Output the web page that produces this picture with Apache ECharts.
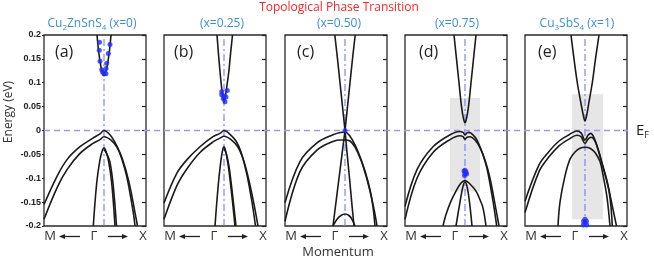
<!DOCTYPE html>
<html><head><meta charset="utf-8">
<script src="https://cdn.jsdelivr.net/npm/echarts@6/dist/echarts.min.js"></script>
<style>html,body{margin:0;padding:0;background:#fff}#c{width:654px;height:258px}</style>
</head><body><div id="c"></div>
<script>
// ---- axis settings ----
const kMin = -60, kMax = 42;          // momentum (M <- Gamma=0 -> X)
const eMin = -0.2, eMax = 0.2, eStep = 0.05;
const gammaK = 0, fermiE = 0;
const panelTitles = ['{n|Cu}{s|2}{n|ZnSnS}{s|4}{n| (x=0)}', '{n|(x=0.25)}', '{n|(x=0.50)}', '{n|(x=0.75)}', '{n|Cu}{s|3}{n|SbS}{s|4}{n| (x=1)}'];
const panelLetters = ['(a)', '(b)', '(c)', '(d)', '(e)'];
const xTickLabels = ['M', 'Γ', 'X'];

// ---- panel (a) x=0 ----
const aCond = [[-7,0.2],[-5.5,0.168],[-4,0.145],[-2.5,0.128],[-1,0.118],[0,0.115],[1,0.118],[2.5,0.128],[4,0.145],[5.5,0.168],[7,0.2]];
const aHeavyUp = [[-60,-0.155],[-47,-0.096],[-37,-0.061],[-24,-0.034],[-11,-0.016],[-4,-0.007],[0,0],[6,-0.009],[11,-0.025],[16,-0.048],[22.7,-0.096],[29.3,-0.172],[31,-0.2]];
const aHeavyLo = [[-60,-0.186],[-47,-0.12],[-37,-0.082],[-24,-0.048],[-11,-0.027],[-4,-0.019],[0,-0.013],[7,-0.02],[13,-0.035],[18.5,-0.06],[25,-0.108],[31,-0.172],[33.5,-0.2]];
const aLight = [[-10.7,-0.2],[-7.3,-0.11],[-4,-0.061],[-1.5,-0.041],[0,-0.037],[1.5,-0.041],[4.3,-0.061],[7.7,-0.11],[11,-0.2]];
const aLight2 = [[0,-0.04],[2.5,-0.048],[5.8,-0.065],[9.2,-0.115],[12.5,-0.2]];
const aBlue = [[-4.5,0.185],[6,0.18],[-4.7,0.168],[4.3,0.161],[-4,0.145],[2.7,0.141],[-2.3,0.127],[2,0.13],[0,0.119],[2,0.119],[-1.3,0.122]];

// ---- panel (b) x=0.25 ----
const bCond = [[-7,0.2],[-5.5,0.16],[-4,0.123],[-2.5,0.092],[-1,0.067],[0,0.06],[1,0.067],[2.8,0.092],[4.8,0.123],[6.5,0.16],[8.5,0.2]];
const bHeavyUp = [[-60,-0.152],[-47,-0.089],[-37,-0.061],[-24,-0.034],[-11,-0.013],[-4,-0.006],[0,0],[6,-0.008],[12,-0.022],[17,-0.045],[22.7,-0.09],[28,-0.15],[31.5,-0.2]];
const bHeavyLo = [[-60,-0.186],[-47,-0.115],[-37,-0.08],[-24,-0.046],[-11,-0.024],[-4,-0.016],[0,-0.012],[7,-0.019],[14,-0.035],[19.5,-0.062],[25,-0.105],[30.5,-0.16],[34,-0.2]];
const bLight = [[-9,-0.2],[-6,-0.12],[-3.5,-0.07],[-1.5,-0.042],[0,-0.034],[1.5,-0.042],[4,-0.07],[7,-0.12],[11,-0.2]];
const bLight2 = [[0,-0.037],[2.5,-0.05],[5,-0.075],[8,-0.125],[12,-0.2]];
const bBlue = [[-2.3,0.081],[3.3,0.084],[2,0.07],[-0.7,0.067],[1,0.06],[-2.3,0.075],[0,0.072]];

// ---- panel (c) x=0.50 ----
const cCone1 = [[-10.2,0.2],[-7.5,0.15],[-5,0.1],[-2.5,0.05],[0,0],[2.2,-0.05],[4.5,-0.1],[6.7,-0.15],[9,-0.2]];
const cCone2 = [[10.2,0.2],[7.5,0.15],[5,0.1],[2.5,0.05],[0,0],[-3,-0.05],[-6,-0.1],[-9,-0.15],[-12,-0.2]];
const cHeavyUp = [[-60,-0.151],[-45,-0.065],[-28,-0.026],[-12,-0.009],[-4,-0.004],[0,-0.003],[5,-0.012],[10,-0.03],[15,-0.055],[20,-0.085],[25,-0.124],[28,-0.16],[30,-0.2]];
const cHeavyLo = [[-60,-0.19],[-45,-0.086],[-28,-0.041],[-12,-0.023],[-4,-0.02],[0,-0.02],[5,-0.022],[10,-0.035],[16,-0.062],[21,-0.095],[26,-0.136],[29.5,-0.17],[32,-0.2]];
const cArc = [[-12,-0.2],[-8,-0.186],[-4,-0.178],[0,-0.175],[4,-0.178],[7,-0.186],[10,-0.2]];
const cBlue = [[0,0]];

// ---- panel (d) x=0.75 ----
const dCond = [[-11,0.2],[-8.5,0.15],[-6,0.1],[-3.5,0.05],[-1.5,0.025],[0,0.016],[1.5,0.025],[3.5,0.05],[6,0.1],[8.5,0.15],[11,0.2]];
const dHeavyUp = [[-60,-0.159],[-48,-0.082],[-32,-0.034],[-15,-0.009],[-5,-0.002],[-2,-0.004],[0,-0.009],[2,-0.005],[4,-0.004],[8,-0.009],[12,-0.02],[17,-0.045],[22,-0.08],[28,-0.148],[31.7,-0.2]];
const dHeavyLo = [[-60,-0.186],[-48,-0.1],[-32,-0.046],[-15,-0.019],[-5,-0.011],[-2,-0.013],[0,-0.018],[2,-0.014],[5,-0.013],[10,-0.02],[15,-0.036],[20,-0.062],[25,-0.1],[30.5,-0.16],[34,-0.2]];
const dLightOuter = [[-22,-0.2],[-19,-0.176],[-14,-0.148],[-9,-0.127],[-4,-0.11],[0,-0.105],[4,-0.11],[11,-0.127],[15,-0.145],[18,-0.162],[21,-0.2]];
const dLightInner = [[-9,-0.2],[-5,-0.15],[-2,-0.117],[0,-0.108],[2,-0.117],[4.5,-0.15],[7,-0.2]];
const dBlue = [[-1,-0.085],[1,-0.087],[0,-0.09],[-0.5,-0.094],[1.5,-0.091],[0,-0.083]];
const dBox = [[-15,0.068],[15,-0.128]];

// ---- panel (e) x=1 ----
const eCond = [[-14,0.2],[-11,0.15],[-7.7,0.1],[-4.3,0.06],[-2,0.035],[0,0.02],[2,0.035],[4,0.06],[7.3,0.1],[10.5,0.15],[14,0.2]];
const eHeavyUp = [[-60,-0.148],[-46,-0.072],[-36,-0.044],[-26,-0.022],[-16,-0.009],[-8,-0.001],[-4,-0.005],[0,-0.02],[3,-0.01],[5.7,-0.006],[9,-0.015],[13,-0.04],[17.3,-0.072],[21,-0.1],[24,-0.127],[26,-0.16],[27.3,-0.2]];
const eHeavyLo = [[-60,-0.172],[-46,-0.086],[-36,-0.055],[-26,-0.032],[-16,-0.018],[-8,-0.01],[-4,-0.013],[0,-0.027],[3,-0.018],[6,-0.014],[10,-0.022],[14,-0.045],[18,-0.075],[22,-0.105],[26,-0.145],[29,-0.175],[31.5,-0.2]];
const eLight = [[-27,-0.2],[-25,-0.15],[-20,-0.095],[-15,-0.06],[-10,-0.045],[-5,-0.037],[0,-0.035],[5,-0.037],[10,-0.046],[15,-0.065],[18,-0.093],[22,-0.14],[25,-0.2]];
const eBlue = [[-1.5,-0.19],[0,-0.186],[1.5,-0.19],[-1.7,-0.198],[1.7,-0.198],[0,-0.193]];
const eBox = [[-13,0.076],[18,-0.186]];

const panels = [
  {bands:[aCond,aHeavyUp,aHeavyLo,aLight,aLight2], blue:aBlue, box:null},
  {bands:[bCond,bHeavyUp,bHeavyLo,bLight,bLight2], blue:bBlue, box:null},
  {bands:[cCone1,cCone2,cHeavyUp,cHeavyLo,cArc], blue:cBlue, box:null},
  {bands:[dCond,dHeavyUp,dHeavyLo,dLightOuter,dLightInner], blue:dBlue, box:dBox},
  {bands:[eCond,eHeavyUp,eHeavyLo,eLight], blue:eBlue, box:eBox}
];

// ---- layout ----
const lefts = [44,164,285,405,525];
const W = 102, TOP = 35, H = 191;
const titleX = [92,222,339,457,577];
const letterDX = [11,10,12,14,13];
const BLUE_T = '#3a8fdc';
const GAMMA_C = '#6a6aff';

const grids=[], xAxes=[], yAxes=[], series=[], graphic=[];
panels.forEach((p,i)=>{
  grids.push({left:lefts[i], top:TOP, width:W, height:H, show:true, borderColor:'#2a2a2a', borderWidth:1.3, backgroundColor:'transparent'});
  xAxes.push({gridIndex:i, type:'value', min:kMin, max:kMax, show:false, axisLine:{onZero:false}});
  yAxes.push({gridIndex:i, type:'value', min:eMin, max:eMax, interval:eStep, position:'left',
    axisLine:{show:false, onZero:false}, splitLine:{show:false},
    axisTick:{show:i===0, inside:false, length:2, lineStyle:{color:'#222'}},
    axisLabel:{show:i===0, margin:3, fontFamily:'Liberation Sans', fontWeight:'bold', fontSize:9, color:'#222'}});
  yAxes.push({gridIndex:i, type:'value', min:eMin, max:eMax, interval:eStep, position:'right',
    axisLine:{show:false, onZero:false}, splitLine:{show:false},
    axisTick:{show:true, inside:true, length:4, lineStyle:{color:'#222', width:1.2}}, axisLabel:{show:false}});
  const yi = i*2;
  // Gamma reference line (dash-dot) through the axes, plus optional shaded box
  const ref = {type:'line', xAxisIndex:i, yAxisIndex:yi, data:[[gammaK,eMin],[gammaK,eMax]], symbol:'none',
    silent:true, animation:false, z:2,
    lineStyle:{color:GAMMA_C, width:1, type:[7,3,2,3]}};
  if(p.box){
    ref.markArea = {silent:true, z:1, itemStyle:{color:'#e6e6e6'}, label:{show:false},
      data:[[{xAxis:p.box[0][0], yAxis:p.box[0][1]},{xAxis:p.box[1][0], yAxis:p.box[1][1]}]]};
  }
  series.push(ref);
  p.bands.forEach((b)=>{
    series.push({type:'line', xAxisIndex:i, yAxisIndex:yi, data:b, smooth:0.35, clip:true,
      symbol:'none', color:'#1a1a1a', lineStyle:{color:'#1a1a1a', width:1.6},
      z:3, silent:true, animation:false});
  });
  series.push({type:'scatter', xAxisIndex:i, yAxisIndex:yi, data:p.blue, symbolSize:5,
    itemStyle:{color:'#1f2cff'}, z:5, silent:true, animation:false});

  // panel title and letter
  graphic.push({type:'text', x:titleX[i], y:24, z:10, style:{text:panelTitles[i], textAlign:'center', textVerticalAlign:'middle',
    rich:{n:{fontFamily:'Open Sans', fontSize:12, fill:BLUE_T, lineHeight:14}, s:{fontFamily:'Open Sans', fontSize:8, fill:BLUE_T, padding:[7,0,0,0]}}}});
  graphic.push({type:'text', x:lefts[i]+letterDX[i], y:52, z:10, style:{text:panelLetters[i], textAlign:'left', textVerticalAlign:'middle', fontFamily:'Open Sans', fontSize:16, fill:'#222'}});
  // x labels M <- Gamma -> X
  const L = lefts[i], ly = 236;
  graphic.push({type:'text', x:L+6, y:ly, style:{text:xTickLabels[0], textAlign:'center', textVerticalAlign:'middle', fontFamily:'Open Sans', fontSize:13, fill:'#333'}});
  graphic.push({type:'text', x:L+50, y:ly, style:{text:xTickLabels[1], textAlign:'center', textVerticalAlign:'middle', fontFamily:'Open Sans', fontSize:13, fill:'#333'}});
  graphic.push({type:'text', x:L+99, y:ly, style:{text:xTickLabels[2], textAlign:'center', textVerticalAlign:'middle', fontFamily:'Open Sans', fontSize:13, fill:'#333'}});
  // arrows
  graphic.push({type:'line', shape:{x1:L+18, y1:ly+0.5, x2:L+36, y2:ly+0.5}, style:{stroke:'#222', lineWidth:1.3}});
  graphic.push({type:'polygon', shape:{points:[[L+15,ly+0.5],[L+21,ly-2],[L+21,ly+3]]}, style:{fill:'#222'}});
  graphic.push({type:'line', shape:{x1:L+64, y1:ly+0.5, x2:L+81, y2:ly+0.5}, style:{stroke:'#222', lineWidth:1.3}});
  graphic.push({type:'polygon', shape:{points:[[L+84,ly+0.5],[L+78,ly-2],[L+78,ly+3]]}, style:{fill:'#222'}});
});

// overlay grid for the Fermi level line across all panels
grids.push({left:44, top:TOP, width:584, height:H, show:false});
xAxes.push({gridIndex:5, type:'value', min:0, max:1, show:false, axisLine:{onZero:false}});
yAxes.push({gridIndex:5, type:'value', min:eMin, max:eMax, show:false, axisLine:{onZero:false}});
series.push({type:'line', xAxisIndex:5, yAxisIndex:10, data:[[0,fermiE],[1,fermiE]], symbol:'none', silent:true, animation:false, z:2,
  lineStyle:{color:'#9a9af0', width:1.3, type:[6,4]}});

graphic.push({type:'text', x:339, y:8, style:{text:'Topological Phase Transition', textAlign:'center', textVerticalAlign:'middle', fontFamily:'Open Sans', fontSize:12, fill:'#ff2424'}});
graphic.push({type:'text', x:338, y:252, style:{text:'Momentum', textAlign:'center', textVerticalAlign:'middle', fontFamily:'Open Sans', fontSize:13, fill:'#333'}});
graphic.push({type:'text', x:9, y:112, rotation:Math.PI/2, style:{text:'Energy (eV)', textAlign:'center', textVerticalAlign:'middle', fontFamily:'Open Sans', fontSize:12, fill:'#333'}});
graphic.push({type:'text', x:636, y:131, style:{text:'{e|E}{f|F}', textAlign:'left', textVerticalAlign:'middle',
  rich:{e:{fontFamily:'Open Sans', fontSize:15, fill:'#222', lineHeight:18}, f:{fontFamily:'Open Sans', fontSize:9, fill:'#222', padding:[9,0,0,0]}}}});

const chart = echarts.init(document.getElementById('c'), null, {renderer:'canvas'});
chart.setOption({animation:false, backgroundColor:'#fff', color:['#1a1a1a'], grid:grids, xAxis:xAxes, yAxis:yAxes, series:series, graphic:graphic});
</script></body></html>
